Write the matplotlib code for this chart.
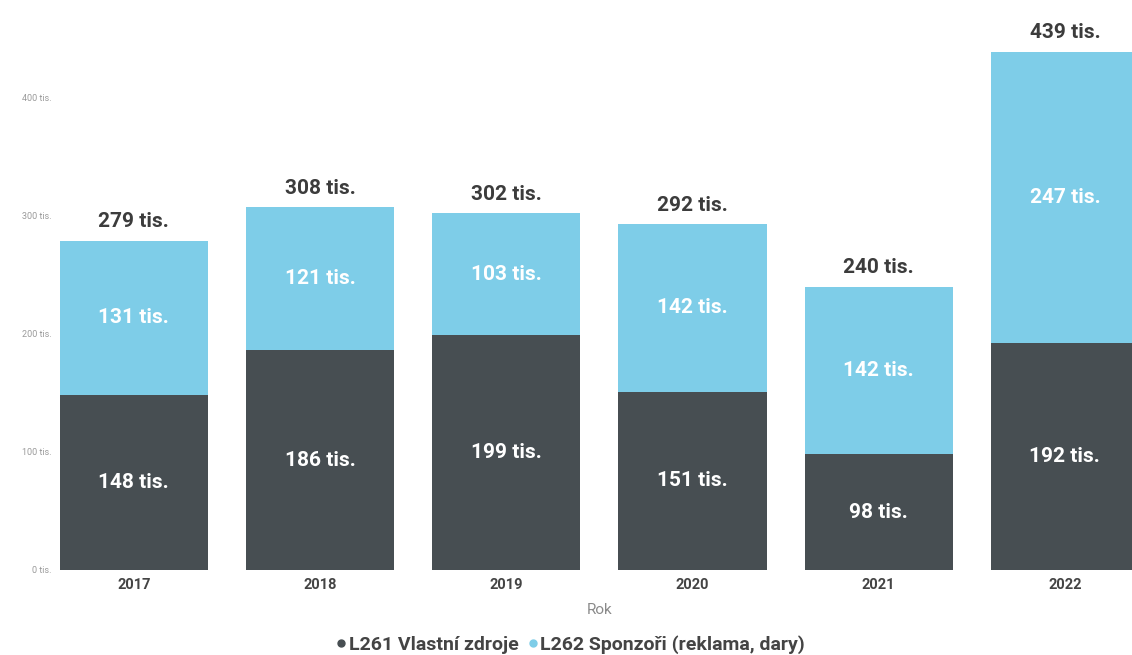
import matplotlib.pyplot as plt
from matplotlib.lines import Line2D
import numpy as np

# data (thousands CZK)
years = ['2017', '2018', '2019', '2020', '2021', '2022']
own = [148, 186, 199, 151, 98, 192]
sponsors = [131, 121, 103, 142, 142, 247]
totals = [279, 308, 302, 292, 240, 439]
y_ticks = [0, 100, 200, 300, 400]
series_names = ['L261 Vlastní zdroje', 'L262 Sponzoři (reklama, dary)']

dark = '#474e52'
blue = '#7ecde8'

plt.rcParams['font.family'] = ['Roboto', 'DejaVu Sans']

fig = plt.figure(figsize=(11.32, 6.55), dpi=100)
ax = fig.add_axes([0.036, 0.13, 0.987, 0.829])

x = np.arange(len(years))
ax.bar(x, own, width=0.795, color=dark)
ax.bar(x, sponsors, width=0.795, bottom=own, color=blue)

# segment labels
for i in x:
    ax.text(i, own[i] / 2, f'{own[i]} tis.', ha='center', va='center',
            color='white', fontsize=15, fontweight='bold')
    ax.text(i, own[i] + sponsors[i] / 2, f'{sponsors[i]} tis.', ha='center', va='center',
            color='white', fontsize=15, fontweight='bold')
    ax.text(i, own[i] + sponsors[i] + 8, f'{totals[i]} tis.', ha='center', va='bottom',
            color='#3c3c3c', fontsize=15, fontweight='bold')

ax.set_xlim(-0.5, len(years) - 0.5)
ax.set_ylim(0, 460)
ax.set_xticks(x)
ax.set_xticklabels(years, fontsize=10.5, fontweight='bold', color='#444444')
ax.set_yticks(y_ticks)
ax.set_yticklabels([f'{v} tis.' for v in y_ticks], fontsize=6.5, color='#9a9a9a')
ax.tick_params(length=0, axis='both')
ax.tick_params(axis='y', pad=-8)
ax.tick_params(axis='x', pad=6)
for s in ax.spines.values():
    s.set_visible(False)

ax.set_xlabel('Rok', fontsize=11, color='#8a8a8a', labelpad=8)

handles = [Line2D([], [], marker='o', linestyle='', markersize=5, color=c) for c in (dark, blue)]
ax.legend(handles, series_names, loc='center', bbox_to_anchor=(0.474, -0.137), ncol=2,
          frameon=False, handlelength=0.6, handletextpad=0.1, columnspacing=0.4,
          prop={'size': 14, 'weight': 'bold'}, labelcolor='#444444')

fig.savefig('out.png', dpi=100)
